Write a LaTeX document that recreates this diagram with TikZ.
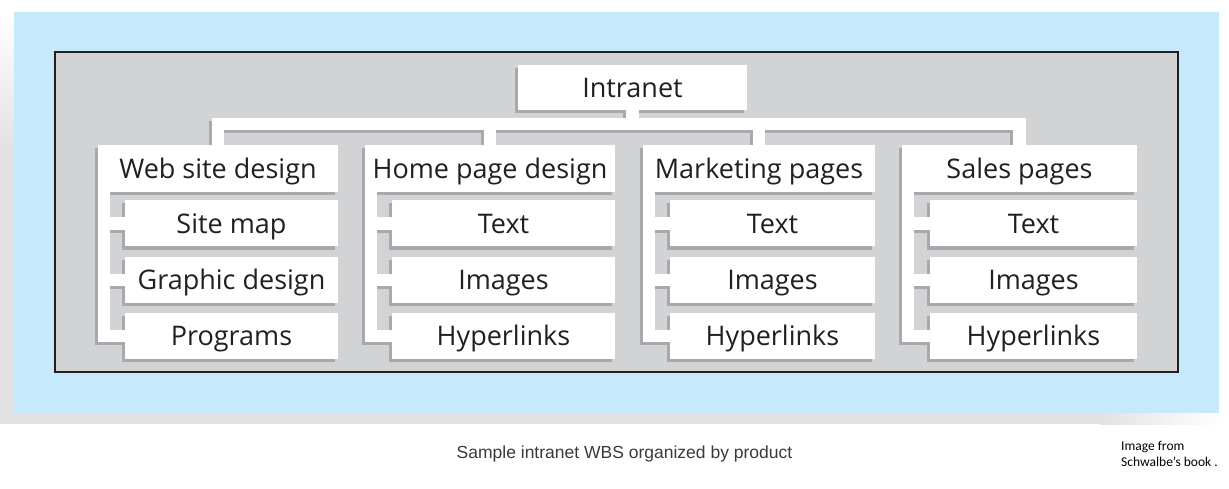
\documentclass[tikz,border=0pt]{standalone}
\usepackage{fontspec}
\setmainfont{Open Sans}
\newfontfamily\capfont{Liberation Sans}
\newfontfamily\notefont{Carlito}
\usepackage{xcolor}
\definecolor{cSky}{HTML}{C6E9FB}
\definecolor{cPanel}{HTML}{D1D3D4}
\definecolor{cShadow}{HTML}{A7A9AC}
\definecolor{cHalo}{HTML}{E2E2E3}
\definecolor{cInk}{HTML}{231F20}
\definecolor{cCap}{HTML}{3A3A3A}
\usepackage{tikz}
\usetikzlibrary{positioning,backgrounds}
\tikzset{
  wbs-box/.style={fill=white,inner sep=0pt,minimum height=47,text=cInk,
    font=\fontsize{27}{31}\selectfont,text height=19.3pt,text depth=0pt},
  wbs-kid/.style={wbs-box,minimum height=46},
  % connectors are broad white bands, their shadow is the same band in grey
  wire/.style={draw=white,line width=12.5,line join=miter},
  wire-shade/.style={draw=cShadow,line width=12.5,line join=miter},
}
\newcommand{\wbswires}[1]{%
  \draw[#1] (intra.south) -- (intra.south |- bar);
  \draw[#1] (web.north) |- (sales.north |- bar) -- (sales.north);
  \draw[#1] (home.north) -- (home.north |- bar);
  \draw[#1] (mkt.north) -- (mkt.north |- bar);
  \foreach \g in {web,home,mkt,sales} {
    \draw[#1] (\g-x) |- (\g3.west);
    \draw[#1] (\g-x |- \g1.west) -- (\g1.west);
    \draw[#1] (\g-x |- \g2.west) -- (\g2.west);
  }%
}

\begin{document}
\begin{tikzpicture}[x=1pt,y=-1pt]
  \useasboundingbox (0,0) rectangle (1229,489);
  % top level
  \node[wbs-box,minimum width=229,minimum height=45] (intra) at (632.5,87.5) {Intranet};
  % second level
  \node[wbs-box,minimum width=240] (web)   at (218,168.5)   {Web site design};
  \node[wbs-box,minimum width=250] (home)  at (490,168.5)   {Home page design};
  \node[wbs-box,minimum width=232] (mkt)   at (759,168.5)   {Marketing pages};
  \node[wbs-box,minimum width=235] (sales) at (1019.5,168.5) {Sales pages};
  % third level, hung under the right edge of each parent
  \foreach \g/\w/\ta/\tb/\tc in {web/213/Site map/Graphic design/Programs,
      home/223/Text/Images/Hyperlinks, mkt/205/Text/Images/Hyperlinks,
      sales/207/Text/Images/Hyperlinks} {
    \node[wbs-kid,minimum width=\w,below=8pt of \g.south east,anchor=north east] (\g1) {\ta};
    \node[wbs-kid,minimum width=\w,below=10pt of \g1.south east,anchor=north east] (\g2) {\tb};
    \node[wbs-kid,minimum width=\w,below=10pt of \g2.south east,anchor=north east] (\g3) {\tc};
    \coordinate (\g-x) at ([xshift=6.25pt]\g.south west);
  }
  \coordinate (bar) at (0,124);
  \wbswires{wire}
  \begin{scope}[on background layer]
    % page shadow and frame
    \shade[top color=white,bottom color=cHalo] (0,12) rectangle (14,150);
    \fill[cHalo] (0,150) rectangle (14,424);
    \fill[cHalo] (14,413) rectangle (1100,424);
    \shade[left color=cHalo,right color=white] (1100,413) rectangle (1222,424);
    \fill[cSky] (14,12) rectangle (1219,413);
    \filldraw[fill=cPanel,draw=cInk,line width=1.6] (55,52) rectangle (1178,372);
    % drop shadows of boxes and connectors
    \begin{scope}[transform canvas={shift={(-3,3)}}]
      \foreach \n in {intra,web,home,mkt,sales,web1,web2,web3,home1,home2,home3,
          mkt1,mkt2,mkt3,sales1,sales2,sales3}
        \fill[cShadow] (\n.north west) rectangle (\n.south east);
      \wbswires{wire-shade}
    \end{scope}
  \end{scope}
  % captions
  \node[font=\capfont\fontsize{17.5}{21}\selectfont,text=cCap,anchor=base] (cap)
    at (624.5,458) {Sample intranet WBS organized by product};
  \node[font=\notefont\fontsize{13.5}{16}\selectfont,align=left,anchor=north west,
    inner sep=0pt] (src) at (1121,441) {Image from\\Schwalbe’s book .};
\end{tikzpicture}
\end{document}
